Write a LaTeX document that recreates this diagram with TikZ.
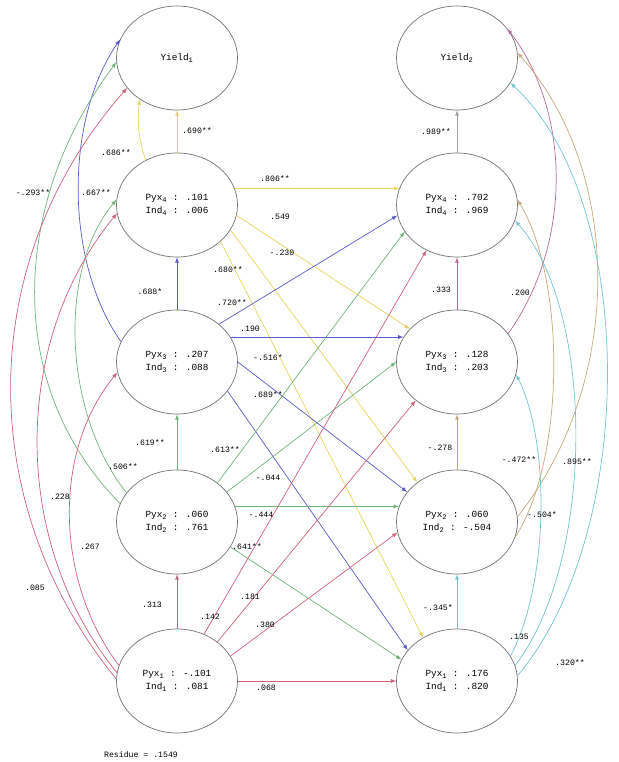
\documentclass[tikz,border=0pt]{standalone}
\usepackage{fontspec}
\setmainfont{Liberation Mono}
\usetikzlibrary{shapes.geometric}

\definecolor{cyel}{HTML}{E6D45E}
\definecolor{cblu}{HTML}{5A5AC8}
\definecolor{cgrn}{HTML}{6DB57A}
\definecolor{cred}{HTML}{D0607A}
\definecolor{cmag}{HTML}{B86A9A}
\definecolor{ctan}{HTML}{C8A878}
\definecolor{ccya}{HTML}{70C4D4}
\definecolor{cgry}{HTML}{A0A0A0}

\tikzset{
		var/.style={draw=black!55, line width=0.6pt, ellipse, minimum width=3.63cm, minimum height=3.12cm, inner sep=0pt, align=center, font=\fontsize{8}{11}\selectfont},
		arrow/.style={-latex, line width=0.6pt},
		lbl/.style={font=\fontsize{7}{8}\selectfont, inner sep=1pt}
	}

\begin{document}
\begin{tikzpicture}[x=0.03cm, y=0.03cm]
\useasboundingbox (0,0) rectangle (618,762);

\node (Y1) at (177,704) [var] {Yield\textsubscript{1}};
\node (L2) at (177,557) [var] {Pyx\textsubscript{4} : .101\\Ind\textsubscript{4} : .006};
\node (L3) at (177,400) [var] {Pyx\textsubscript{3} : .207\\Ind\textsubscript{3} : .088};
\node (L4) at (177,240) [var] {Pyx\textsubscript{2} : .060\\Ind\textsubscript{2} : .761};
\node (L5) at (177,81) [var] {Pyx\textsubscript{1} : -.101\\Ind\textsubscript{1} : .081};

\node (Y2) at (457,704) [var] {Yield\textsubscript{2}};
\node (R2) at (457,557) [var] {Pyx\textsubscript{4} : .702\\Ind\textsubscript{4} : .969};
\node (R3) at (457,400) [var] {Pyx\textsubscript{3} : .128\\Ind\textsubscript{3} : .203};
\node (R4) at (457,240) [var] {Pyx\textsubscript{2} : .060\\Ind\textsubscript{2} : -.504};
\node (R5) at (457,81) [var] {Pyx\textsubscript{1} : .176\\Ind\textsubscript{1} : .820};

\node (res) at (141,7) [lbl] {Residue = .1549};


\draw [arrow, cyel] (L2.north) -- (Y1.south);
\draw [arrow, cyel] (L2.125) to[bend left=12] (Y1.228);
\draw [arrow, cyel] (L2.16) -- (R2.164);
\draw [arrow, cyel] (L2.-10) -- (R3.145);
\draw [arrow, cyel] (L2.-25) -- (R4.135);
\draw [arrow, cyel] (L2.-40) -- (R5.128);

\draw [arrow, cblu] (L3.north) -- (L2.south);
\draw [arrow, cblu] (L3.160) .. controls +(-56,79) and +(-56,-81) .. (Y1.162);
\draw [arrow, cblu] (L3.42) -- (R2.190);
\draw [arrow, cblu] (L3.25) -- (R3.155);
\draw [arrow, cblu] (L3.0) -- (R4.149);
\draw [arrow, cblu] (L3.-30) -- (R5.148);

\draw [arrow, cgrn] (L4.north) -- (L3.south);
\draw [arrow, cgrn] (L4.150) .. controls +(-62,78) and +(-60,-72) .. (L2.175);
\draw [arrow, cgrn] (L4.162) .. controls +(-117,118) and +(-105,-140) .. (Y1.184);
\draw [arrow, cgrn] (L4.44) -- (R2.207);
\draw [arrow, cgrn] (L4.31) -- (R3.180);
\draw [arrow, cgrn] (L4.15) -- (R4.165);
\draw [arrow, cgrn] (L4.-25) -- (R5.159);

\draw [arrow, cred] (L5.north) -- (L4.south);
\draw [arrow, cred] (L5.165) .. controls +(-63,83) and +(-66,-80) .. (L3.190);
\draw [arrow, cred] (L5.172) .. controls +(-106,129) and +(-106,-129) .. (L2.188);
\draw [arrow, cred] (L5.178) .. controls +(-142,174) and +(-153,-174) .. (Y1.211);
\draw [arrow, cred] (L5.60) -- (R2.236);
\draw [arrow, cred] (L5.44) -- (R3.223);
\draw [arrow, cred] (L5.25) -- (R4.190);
\draw [arrow, cred] (L5.0) -- (R5.180);

\draw [arrow, cgry] (R2.north) -- (Y2.south);
\draw [arrow, cmag] (R3.north) -- (R2.south);
\draw [arrow, cmag] (R3.29) .. controls +(64,90) and +(64,-84) .. (Y2.30);
\draw [arrow, ctan] (R4.north) -- (R3.south);
\draw [arrow, ctan] (R4.-15) .. controls +(50,78) and +(49,-82) .. (R2.5);
\draw [arrow, ctan] (R4.5) .. controls +(107,135) and +(106,-120) .. (Y2.5);
\draw [arrow, ccya] (R5.north) -- (R4.south);
\draw [arrow, ccya] (R5.25) .. controls +(39,74) and +(34,-67) .. (R3.-12);
\draw [arrow, ccya] (R5.15) .. controls +(80,104) and +(81,-91) .. (R2.-15);
\draw [arrow, ccya] (R5.5) .. controls +(121,144) and +(127,-118) .. (Y2.-25);


\node (kY1L2) at (197,631) [lbl] {.690**};
\node (kY1L2b) at (116,609) [lbl] {.686**};
\node (kY1L3) at (96,569) [lbl] {.667**};
\node (kY1L4) at (33,569) [lbl] {-.293**};
\node (kY1L5) at (35,174) [lbl] {.085};
\node (kL2L3) at (150,470) [lbl] {.688*};
\node (kL2L4) at (123,295) [lbl] {.506**};
\node (kL2L5) at (60,265) [lbl] {.228};
\node (kL3L4) at (150,319) [lbl] {.619**};
\node (kL3L5) at (90,215) [lbl] {.267};
\node (kL4L5) at (152,157) [lbl] {.313};

\node (kR2L2) at (275,583) [lbl] {.806**};
\node (kR3L2) at (280,545) [lbl] {.549};
\node (kR4L2) at (282,509) [lbl] {-.230};
\node (kR5L2) at (228,492) [lbl] {.680**};
\node (kR2L3) at (232,459) [lbl] {.720**};
\node (kR3L3) at (250,433) [lbl] {.190};
\node (kR4L3) at (268,404) [lbl] {-.516*};
\node (kR5L3) at (268,367) [lbl] {.689**};
\node (kR2L4) at (225,312) [lbl] {.613**};
\node (kR3L4) at (268,284) [lbl] {-.044};
\node (kR4L4) at (261,247) [lbl] {-.444};
\node (kR5L4) at (247,215) [lbl] {.641**};
\node (kR2L5) at (210,145) [lbl] {.142};
\node (kR3L5) at (250,165) [lbl] {.181};
\node (kR4L5) at (265,137) [lbl] {.380};
\node (kR5L5) at (266,74) [lbl] {.068};

\node (kY2R2) at (436,630) [lbl] {.989**};
\node (kR2R3) at (441,472) [lbl] {.333};
\node (kY2R3) at (520,469) [lbl] {.200};
\node (kR3R4) at (440,314) [lbl] {-.278};
\node (kR2R4) at (519,302) [lbl] {-.472**};
\node (kY2R4) at (577,300) [lbl] {.895**};
\node (kR4R5) at (438,154) [lbl] {-.345*};
\node (kR3R5) at (519,125) [lbl] {.135};
\node (kR2R5) at (542,247) [lbl] {-.504*};
\node (kY2R5) at (570,99) [lbl] {.320**};

\end{tikzpicture}
\end{document}
